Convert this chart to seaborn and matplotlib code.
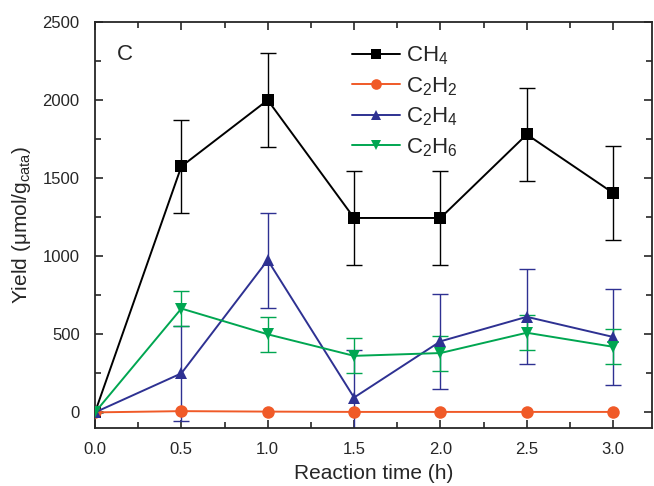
import matplotlib
matplotlib.use("Agg")
import matplotlib.pyplot as plt
import seaborn as sns
import numpy as np
import pandas as pd
from matplotlib.ticker import MultipleLocator

time = [0.0, 0.5, 1.0, 1.5, 2.0, 2.5, 3.0]
ch4 = [0, 1575, 2000, 1245, 1245, 1780, 1405]
ch4_err = [0, 300, 300, 300, 300, 300, 300]
c2h2 = [0, 8, 5, 3, 3, 3, 3]
c2h4 = [0, 250, 975, 95, 455, 612, 483]
c2h4_err = [0, 305, 305, 305, 305, 305, 305]
c2h6 = [0, 665, 500, 362, 380, 510, 420]
c2h6_err = [0, 112, 112, 112, 112, 112, 112]

labels = ["CH$_4$", "C$_2$H$_2$", "C$_2$H$_4$", "C$_2$H$_6$"]
colors = ["#000000", "#f05a28", "#2e3192", "#00a651"]
markers = ["s", "o", "^", "v"]

sns.set_style("ticks")
plt.rcParams["font.family"] = ["Liberation Sans", "DejaVu Sans"]
plt.rcParams["mathtext.fontset"] = "custom"
plt.rcParams["mathtext.rm"] = "Liberation Sans"
plt.rcParams["mathtext.it"] = "Liberation Sans:italic"
plt.rcParams["mathtext.default"] = "rm"

fig = plt.figure(figsize=(6.54, 4.86), dpi=100)
ax = fig.add_axes([95/654, 1-428/486, (652-95)/654, (428-22)/486])

series = [(ch4, ch4_err), (c2h2, None), (c2h4, c2h4_err), (c2h6, c2h6_err)]
for (vals, err), lab, col, mk in zip(series, labels, colors, markers):
    df = pd.DataFrame({"t": time, "y": vals})
    if err is not None:
        ax.errorbar(time, vals, yerr=err, fmt="none", ecolor=col, elinewidth=1.0,
                    capsize=6, capthick=1.0, zorder=2)
    sns.lineplot(data=df, x="t", y="y", ax=ax, color=col, marker=mk, markersize=9,
                 markeredgewidth=0, linewidth=1.4, label=lab, zorder=3)

ax.set_xlim(0, 3.225)
ax.set_ylim(-100, 2500)
ax.xaxis.set_minor_locator(MultipleLocator(0.25))
ax.yaxis.set_major_locator(MultipleLocator(500))
ax.yaxis.set_minor_locator(MultipleLocator(250))
ax.set_xticks(time)
ax.set_xticklabels(["0.0", "0.5", "1.0", "1.5", "2.0", "2.5", "3.0"])
ax.tick_params(axis="both", which="both", direction="in", top=True, right=True,
               labelsize=12, width=1.2)
ax.tick_params(which="major", length=6)
ax.tick_params(which="minor", length=4)
ax.tick_params(axis="x", pad=10)
ax.tick_params(axis="y", pad=11)
for s in ax.spines.values():
    s.set_linewidth(1.3)

ax.set_xlabel("Reaction time (h)", fontsize=15, labelpad=5)
ax.set_ylabel("Yield (μmol/g$_{cata}$)", fontsize=15, labelpad=7)
ax.text(0.04, 0.945, "C", transform=ax.transAxes, fontsize=16, va="top", ha="left")

leg = ax.legend(loc="upper left", bbox_to_anchor=(0.4335, 0.983), frameon=False,
                fontsize=16, handlelength=2.15, labelspacing=0.36, handletextpad=0.3,
                borderpad=0.2, markerscale=0.85)

fig.savefig("out.png", dpi=100)
